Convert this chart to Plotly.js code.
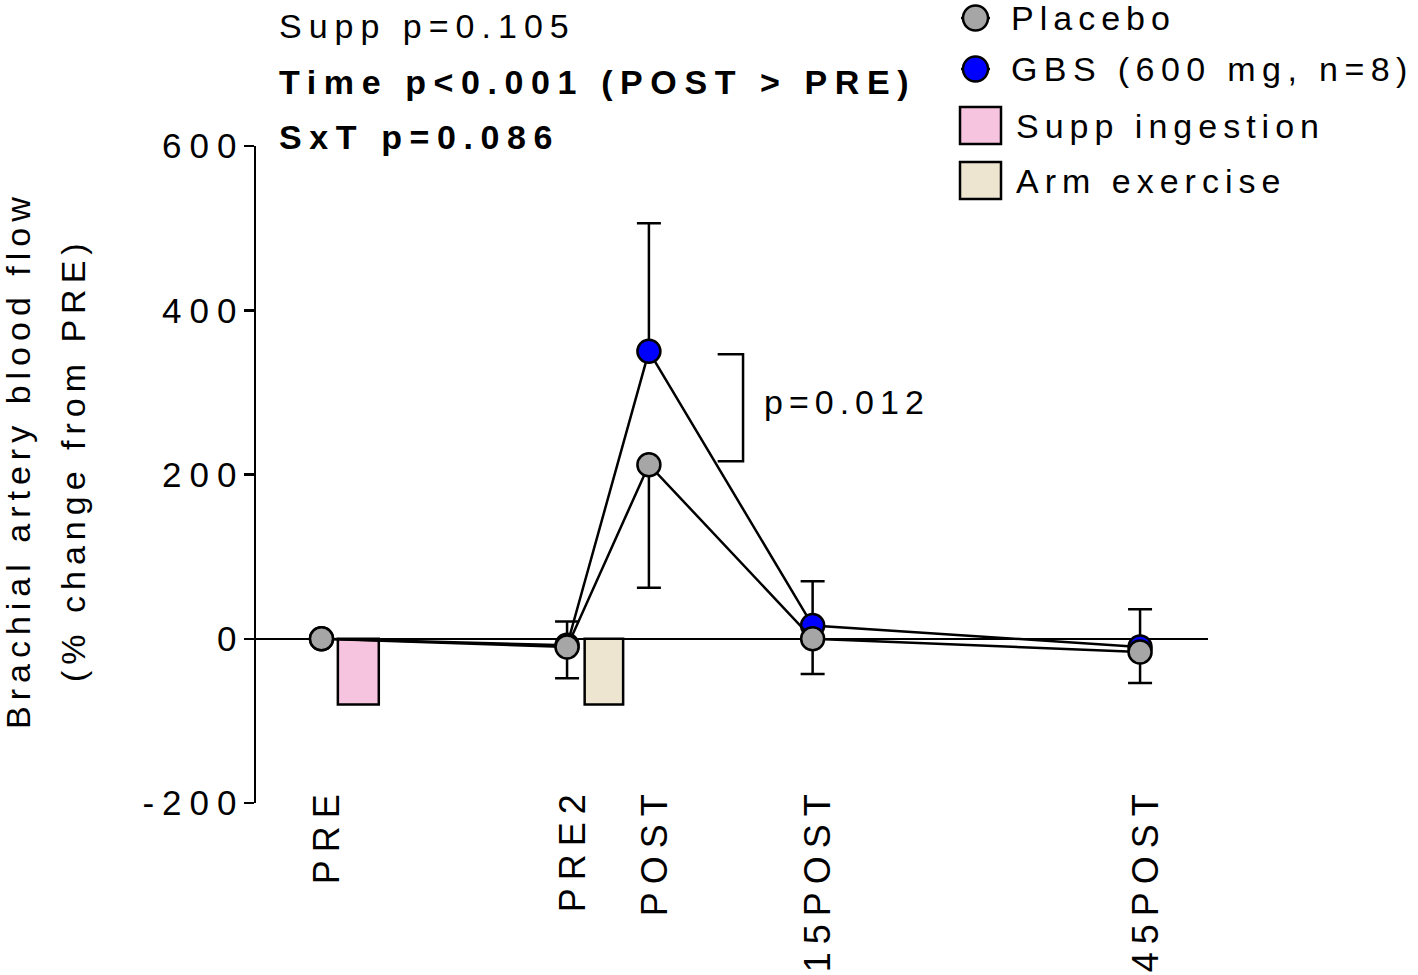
<!DOCTYPE html>
<html>
<head>
<meta charset="utf-8">
<script src="https://cdn.plot.ly/plotly-3.0.1.min.js"></script>
<style>
  html, body { margin: 0; padding: 0; background: #fff; }
  #chart { width: 1418px; height: 975px; }
  .main-svg text { letter-spacing: 6px; }
  .main-svg .xtick text { letter-spacing: 8px; }
  .main-svg .ytick text { letter-spacing: 8px; }
</style>
</head>
<body>
<div id="chart"></div>
<script>
// ---- data ----
const timepoints = ['PRE', 'PRE2', 'POST', '15POST', '45POST'];
const timeX = [0, 3, 4, 6, 10];
const placeboMean = [0, -10, 212, 0, -16];
const placeboErrDown = [0, 38, 150, 43, 38];
const gbsMean = [0, -8, 350, 16, -10];
const gbsErrUp = [0, 29, 156, 54, 46];
const phaseNames = ['Supp ingestion', 'Arm exercise'];
const phaseX = [0.45, 3.45];
const phaseY = [-80, -80];
const yTicks = [-200, 0, 200, 400, 600];
const yTickText = ['-200', '0', '200', '400', '600'];
const statLines = ['Supp p=0.105', 'Time p<0.001 (POST > PRE)', 'SxT p=0.086'];
const pairP = 'p=0.012';
const yTitleLines = ['Brachial artery blood flow', '(% change from PRE)'];

// ---- layout helpers ----
const L = 256, R = 1208, T = 146, B = 803;
const px = x => (x - L) / (R - L);
const py = y => (B - y) / (B - T);
const FONT = 'Liberation Sans, Arial, sans-serif';
const zeros = timeX.map(() => 0);

const traces = [
  {
    type: 'bar', name: phaseNames[0], x: [phaseX[0]], y: [phaseY[0]], base: 0, width: [0.5],
    marker: { color: '#F7C4E0', line: { color: '#000', width: 2.5 } }, showlegend: false
  },
  {
    type: 'bar', name: phaseNames[1], x: [phaseX[1]], y: [phaseY[1]], base: 0, width: [0.47],
    marker: { color: '#EDE5D0', line: { color: '#000', width: 2.5 } }, showlegend: false
  },
  {
    type: 'scatter', mode: 'lines+markers', name: 'GBS (600 mg, n=8)',
    x: timeX, y: gbsMean,
    line: { color: '#000', width: 2.5 },
    marker: { size: 23, color: '#0000FF', line: { color: '#000', width: 2.5 } },
    error_y: { type: 'data', symmetric: false, array: gbsErrUp, arrayminus: zeros, color: '#000', thickness: 2.5, width: 12 },
    showlegend: false
  },
  {
    type: 'scatter', mode: 'lines+markers', name: 'Placebo',
    x: timeX, y: placeboMean,
    line: { color: '#000', width: 2.5 },
    marker: { size: 23, color: '#A6A6A6', line: { color: '#000', width: 2.5 } },
    error_y: { type: 'data', symmetric: false, array: zeros, arrayminus: placeboErrDown, color: '#000', thickness: 2.5, width: 12 },
    showlegend: false
  }
];

const annotations = [];
const statY = [26, 82, 137];
statLines.forEach((t, i) => annotations.push({
  xref: 'paper', yref: 'paper', x: px(277), y: py(statY[i]), xanchor: 'left', yanchor: 'middle', align: 'left',
  text: i === 0 ? '<span style="letter-spacing:7px">' + t + '</span>'
               : '<b><span style="letter-spacing:7.6px">' + t + '</span></b>',
  showarrow: false,
  font: { family: FONT, size: 34, color: '#000' }
}));
annotations.push({
  xref: 'x', yref: 'y', x: 5.38, y: 288, xanchor: 'left', yanchor: 'middle', align: 'left',
  text: pairP, showarrow: false, font: { family: FONT, size: 34, color: '#000' }
});
const yTitleX = [18, 73];
yTitleLines.forEach((t, i) => annotations.push({
  xref: 'paper', yref: 'paper', x: px(yTitleX[i]), y: py(460), xanchor: 'center', yanchor: 'middle',
  textangle: -90, text: t, showarrow: false, font: { family: FONT, size: 34, color: '#000' }
}));

// legend (drawn manually to match the large symbols)
const legendRows = [
  { label: 'Placebo', kind: 'circle', color: '#A6A6A6', y: 18 },
  { label: 'GBS (600 mg, n=8)', kind: 'circle', color: '#0000FF', y: 69 },
  { label: phaseNames[0], kind: 'rect', color: '#F7C4E0', y: 126 },
  { label: phaseNames[1], kind: 'rect', color: '#EDE5D0', y: 181 }
];
const shapes = [];
legendRows.forEach(r => {
  if (r.kind === 'circle') {
    shapes.push({ type: 'line', xref: 'paper', yref: 'paper', x0: px(961), x1: px(990), y0: py(r.y), y1: py(r.y), line: { color: '#000', width: 2.5 } });
    shapes.push({ type: 'circle', xref: 'paper', yref: 'paper', xsizemode: 'pixel', ysizemode: 'pixel',
      xanchor: px(975.5), yanchor: py(r.y), x0: -12.5, x1: 12.5, y0: -12.5, y1: 12.5,
      fillcolor: r.color, line: { color: '#000', width: 2.5 } });
  } else {
    shapes.push({ type: 'rect', xref: 'paper', yref: 'paper', x0: px(960), x1: px(1001), y0: py(r.y - 19), y1: py(r.y + 18),
      fillcolor: r.color, line: { color: '#000', width: 2.5 } });
  }
  const sp = r.label.startsWith('GBS') ? 6.4 : 6;
  annotations.push({
    xref: 'paper', yref: 'paper', x: px(r.kind === 'circle' ? 1009 : 1014), y: py(r.y), xanchor: 'left', yanchor: 'middle', align: 'left',
    text: '<span style="letter-spacing:' + sp + 'px">' + r.label + '</span>', showarrow: false,
    font: { family: FONT, size: 34, color: '#000' }
  });
});
// significance bracket between GBS and Placebo at POST
shapes.push({ type: 'path', xref: 'x', yref: 'y',
  path: 'M 4.84 ' + gbsMean[2] * 0.99 + ' L 5.15 ' + gbsMean[2] * 0.99 + ' L 5.15 ' + placeboMean[2] * 1.02 + ' L 4.84 ' + placeboMean[2] * 1.02,
  line: { color: '#000', width: 2.5 } });

const layout = {
  width: 1418, height: 975,
  margin: { l: L, r: 1418 - R, t: T, b: 975 - B, pad: 0 },
  paper_bgcolor: '#fff', plot_bgcolor: '#fff',
  showlegend: false,
  barmode: 'overlay',
  font: { family: FONT, size: 34, color: '#000' },
  xaxis: {
    range: [-0.8, 10.83], tickvals: timeX, ticktext: timepoints, tickangle: -90,
    showgrid: false, zeroline: false, showline: false, ticks: '',
    ticklabelstandoff: -25, ticklabelshift: 6,
    tickfont: { family: FONT, size: 36, color: '#000' }
  },
  yaxis: {
    range: [-200, 600], tickvals: yTicks, ticktext: yTickText, showgrid: false,
    showline: true, linecolor: '#000', linewidth: 2.5,
    ticks: 'outside', ticklen: 10, tickwidth: 2.5, tickcolor: '#000',
    ticklabelstandoff: -8,
    zeroline: true, zerolinecolor: '#000', zerolinewidth: 2.5,
    tickfont: { family: FONT, size: 35, color: '#000' }
  },
  annotations: annotations,
  shapes: shapes
};

Plotly.newPlot('chart', traces, layout, { displayModeBar: false, staticPlot: true });
</script>
</body>
</html>
